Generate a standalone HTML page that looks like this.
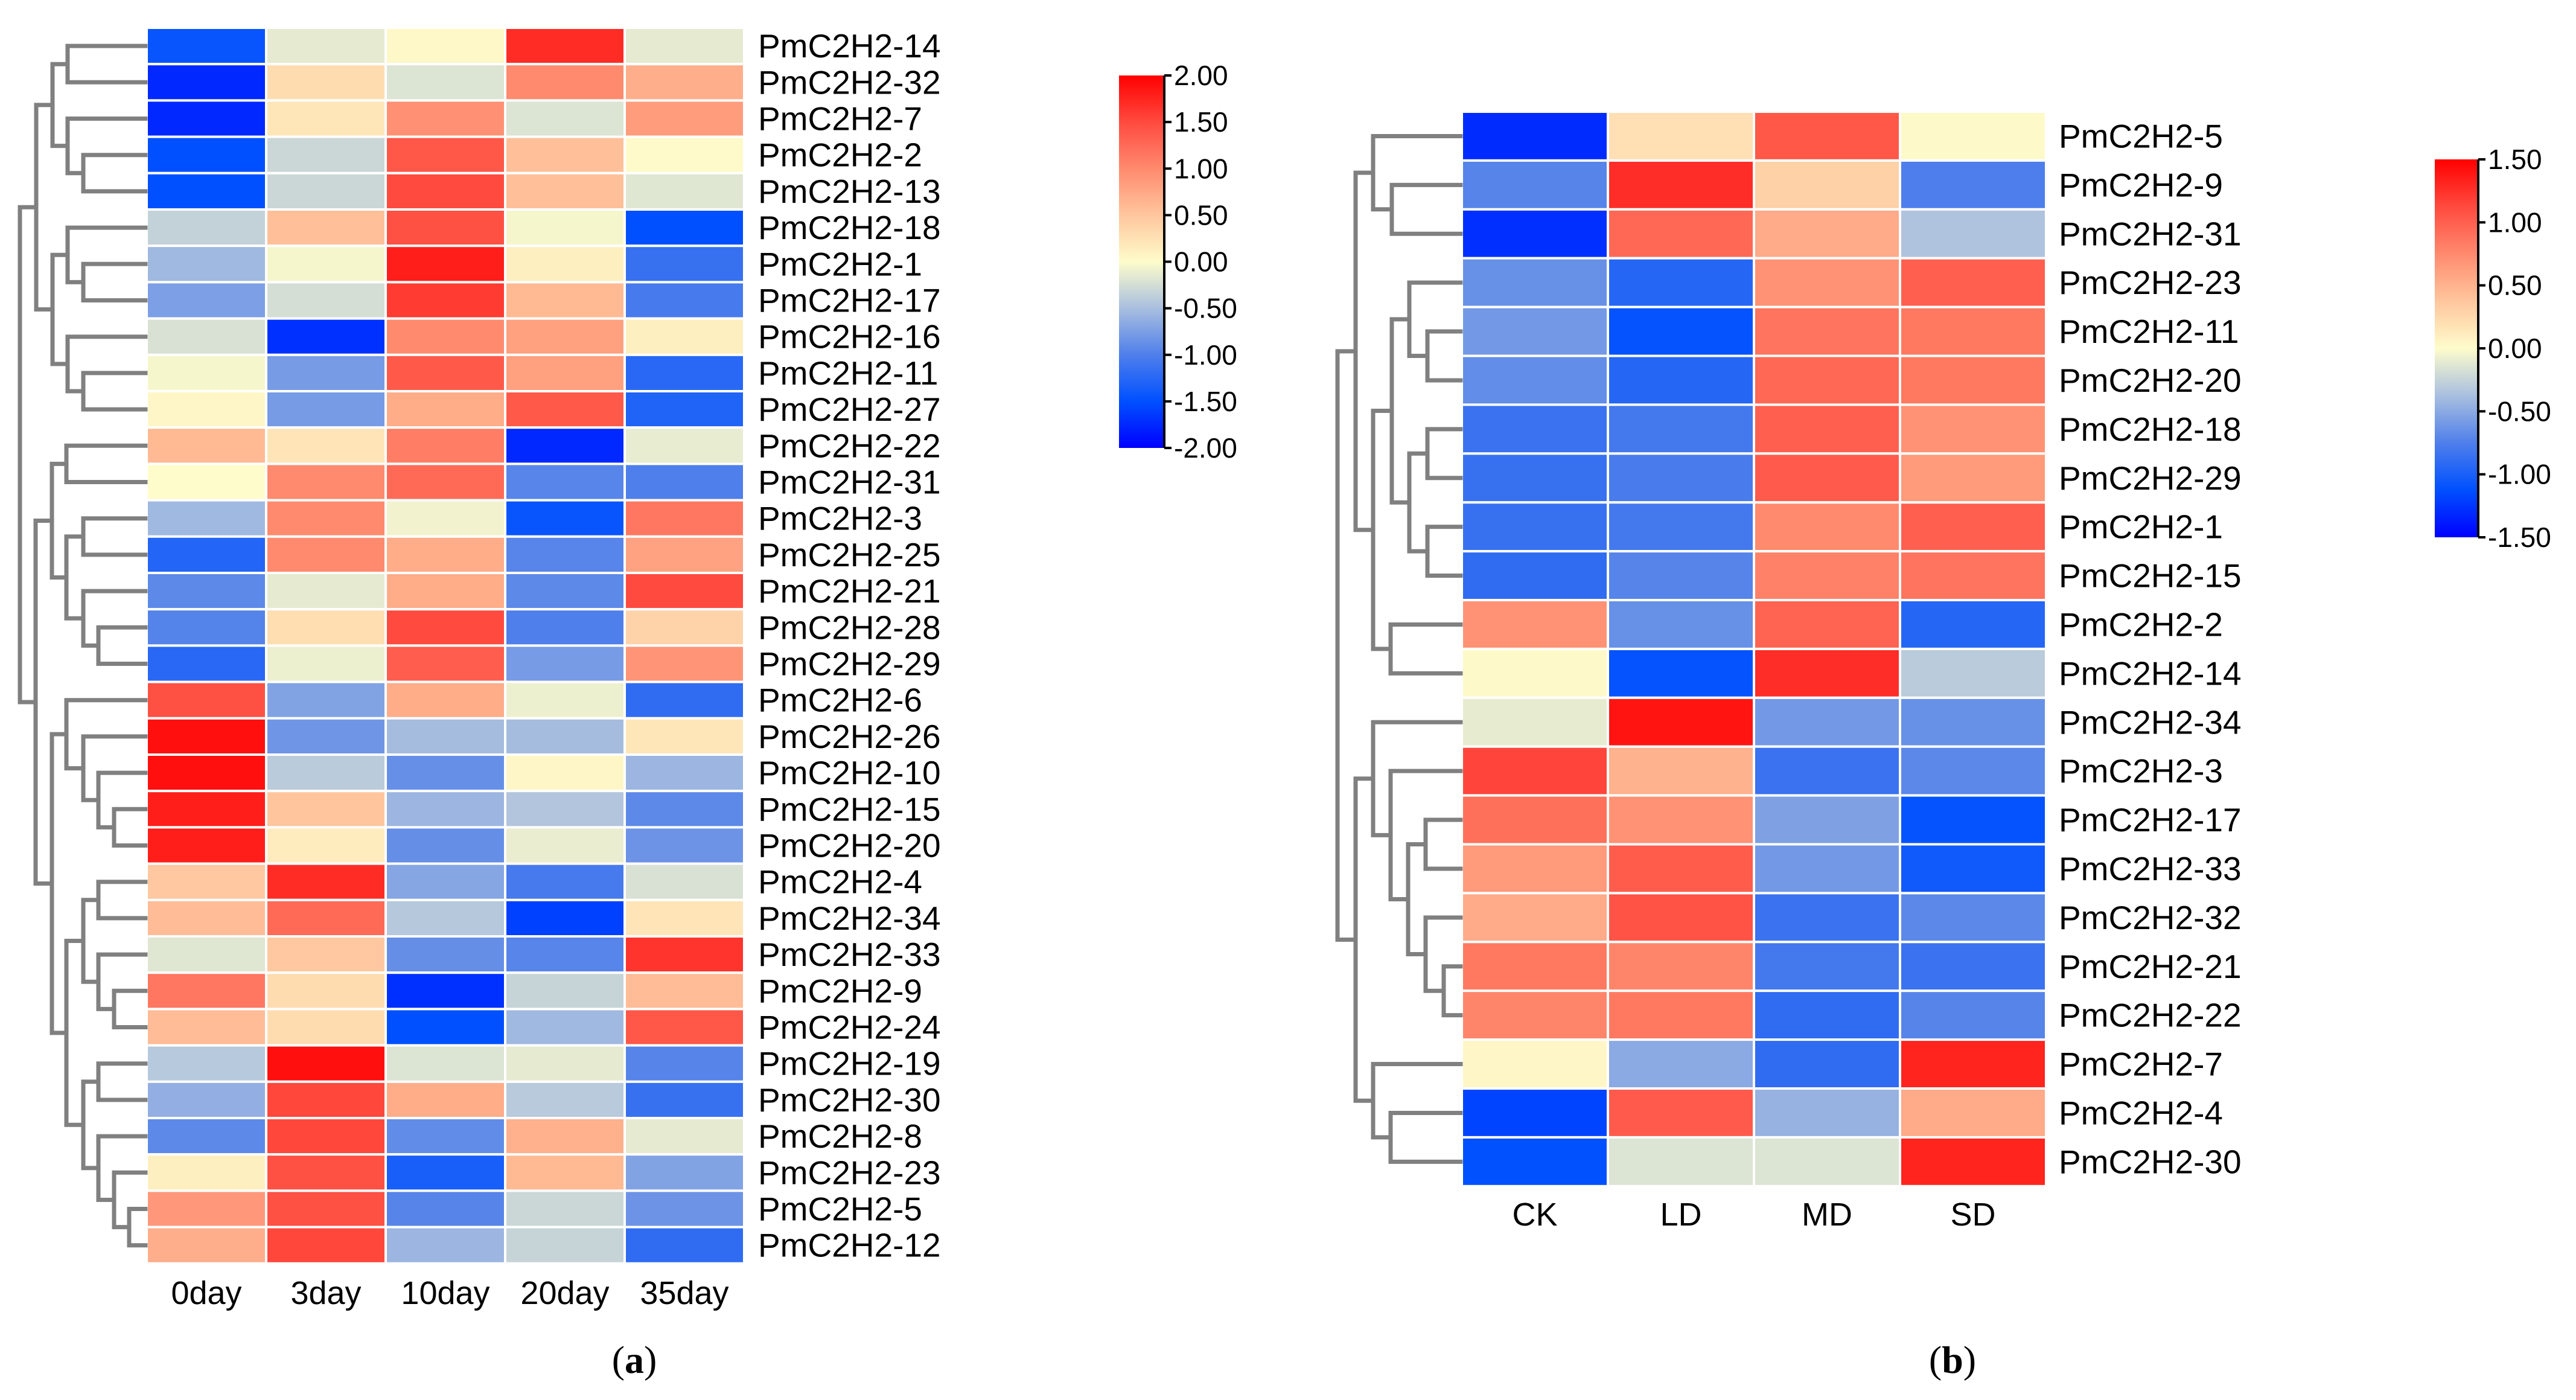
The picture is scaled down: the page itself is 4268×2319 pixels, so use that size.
<!DOCTYPE html>
<html><head><meta charset="utf-8"><title>PmC2H2 heatmaps</title>
<style>html,body{margin:0;padding:0;background:#fff}svg{display:block}</style></head>
<body>
<svg id="fig" xmlns="http://www.w3.org/2000/svg" width="4268" height="2319" viewBox="0 0 4268 2319" font-family="'Liberation Sans', Arial, sans-serif">
<defs>
<linearGradient id="cbgrad" x1="0" y1="1" x2="0" y2="0">
<stop offset="0" stop-color="#0000ff"/><stop offset="0.125" stop-color="#0050ff"/><stop offset="0.25" stop-color="#4f7fea"/><stop offset="0.375" stop-color="#a9bfdf"/><stop offset="0.5" stop-color="#fefccb"/><stop offset="0.625" stop-color="#ffc69e"/><stop offset="0.75" stop-color="#ff8a6e"/><stop offset="0.875" stop-color="#ff4a3f"/><stop offset="1" stop-color="#ff0000"/>
</linearGradient>
</defs>
<g id="panelA"></g>
<g id="panelB"></g>
<text x="1051" y="2252" font-family="'Liberation Serif', serif" font-size="64" text-anchor="middle" dominant-baseline="central">(<tspan font-weight="bold">a</tspan>)</text>
<text x="3235" y="2252" font-family="'Liberation Serif', serif" font-size="64" text-anchor="middle" dominant-baseline="central">(<tspan font-weight="bold">b</tspan>)</text>
</svg>
<script>
const colsA = ["0day","3day","10day","20day","35day"];
const genesA = ["PmC2H2-14","PmC2H2-32","PmC2H2-7","PmC2H2-2","PmC2H2-13","PmC2H2-18","PmC2H2-1","PmC2H2-17","PmC2H2-16","PmC2H2-11","PmC2H2-27","PmC2H2-22","PmC2H2-31","PmC2H2-3","PmC2H2-25","PmC2H2-21","PmC2H2-28","PmC2H2-29","PmC2H2-6","PmC2H2-26","PmC2H2-10","PmC2H2-15","PmC2H2-20","PmC2H2-4","PmC2H2-34","PmC2H2-33","PmC2H2-9","PmC2H2-24","PmC2H2-19","PmC2H2-30","PmC2H2-8","PmC2H2-23","PmC2H2-5","PmC2H2-12"];
const valuesA = [
[-1.45,-0.15,0.05,1.7,-0.15],[-1.75,0.3,-0.2,1.0,0.7],[-1.75,0.2,0.95,-0.2,0.85],[-1.5,-0.3,1.4,0.55,0.02],[-1.5,-0.3,1.5,0.55,-0.18],
[-0.35,0.55,1.45,-0.05,-1.5],[-0.55,-0.05,1.8,0.12,-1.15],[-0.75,-0.25,1.6,0.6,-1.05],[-0.22,-1.7,1.0,0.82,0.12],[-0.05,-0.78,1.38,0.82,-1.25],
[0.06,-0.78,0.72,1.38,-1.3],[0.6,0.22,1.1,-1.75,-0.13],[0.0,1.0,1.25,-0.95,-1.0],[-0.55,1.0,-0.07,-1.45,1.15],[-1.28,1.0,0.72,-0.95,0.8],
[-0.92,-0.15,0.72,-0.92,1.5],[-0.97,0.28,1.5,-1.0,0.38],[-1.24,-0.1,1.35,-0.78,0.92],[1.45,-0.72,0.72,-0.1,-1.2],[1.9,-0.82,-0.52,-0.52,0.2],
[1.9,-0.4,-0.87,0.06,-0.57],[1.8,0.5,-0.57,-0.45,-0.92],[1.8,0.15,-0.88,-0.12,-0.84],[0.48,1.7,-0.7,-1.05,-0.22],[0.58,1.25,-0.43,-1.6,0.22],
[-0.18,0.48,-0.88,-0.95,1.65],[1.15,0.3,-1.7,-0.33,0.58],[0.58,0.3,-1.5,-0.55,1.4],[-0.42,1.9,-0.2,-0.15,-0.96],[-0.63,1.52,0.72,-0.41,-1.15],
[-0.92,1.52,-0.9,0.68,-0.15],[0.12,1.45,-1.35,0.6,-0.72],[0.88,1.45,-0.96,-0.3,-0.84],[0.7,1.52,-0.57,-0.33,-1.2]];
const ticksA = ["2.00","1.50","1.00","0.50","0.00","-0.50","-1.00","-1.50","-2.00"];

const colsB = ["CK","LD","MD","SD"];
const genesB = ["PmC2H2-5","PmC2H2-9","PmC2H2-31","PmC2H2-23","PmC2H2-11","PmC2H2-20","PmC2H2-18","PmC2H2-29","PmC2H2-1","PmC2H2-15","PmC2H2-2","PmC2H2-14","PmC2H2-34","PmC2H2-3","PmC2H2-17","PmC2H2-33","PmC2H2-32","PmC2H2-21","PmC2H2-22","PmC2H2-7","PmC2H2-4","PmC2H2-30"];
const valuesB = [
[-1.3,0.2,1.05,0.02],[-0.72,1.27,0.3,-0.76],[-1.28,0.95,0.55,-0.35],[-0.65,-0.95,0.7,1.0],[-0.6,-1.1,0.88,0.85],
[-0.67,-0.95,0.95,0.85],[-0.85,-0.8,1.0,0.7],[-0.86,-0.78,1.03,0.65],[-0.86,-0.8,0.75,1.0],[-0.9,-0.72,0.8,0.88],
[0.7,-0.65,0.97,-0.95],[0.02,-1.1,1.27,-0.3],[-0.1,1.4,-0.6,-0.65],[1.15,0.5,-0.85,-0.7],[0.9,0.7,-0.55,-1.1],
[0.65,1.02,-0.6,-1.05],[0.55,1.07,-0.85,-0.7],[0.85,0.78,-0.8,-0.85],[0.78,0.85,-0.9,-0.72],[0.04,-0.5,-0.9,1.32],
[-1.18,1.03,-0.45,0.55],[-1.12,-0.15,-0.15,1.32]];
const ticksB = ["1.50","1.00","0.50","0.00","-0.50","-1.00","-1.50"];

const NS = "http://www.w3.org/2000/svg";
const stops = [[0,0,255],[0,80,255],[79,127,234],[169,191,223],[254,252,203],[255,198,158],[255,138,110],[255,74,63],[255,0,0]];
function cmap(v, lim){
  let t = (v + lim) / (2*lim); t = Math.max(0, Math.min(1, t));
  const p = t*8, i = Math.min(7, Math.floor(p)), f = p - i;
  const a = stops[i], b = stops[i+1];
  return "rgb(" + a.map((c,k)=>Math.round(c + (b[k]-c)*f)).join(",") + ")";
}
function mk(tag, attrs, parent){
  const e = document.createElementNS(NS, tag);
  for (const k in attrs) e.setAttribute(k, attrs[k]);
  parent.appendChild(e); return e;
}

function drawHeatmap(g, cfg){
  const {cols, genes, vals, lim, x0, y0, cw, rh, labelX, xLabY, tree, leafEnd, cb, ticks} = cfg;
  const cells = mk("g", {}, g);
  
  
  genes.forEach((gn, r) => {
    cols.forEach((c, ci) => {
      const rc = mk("rect", {x: x0 + ci*cw, y: y0 + r*rh, width: cw, height: rh, fill: cmap(vals[r][ci], lim), stroke: "#fff", "stroke-width": 4}, cells);
      
      
    });
    const t = mk("text", {x: labelX, y: y0 + (r+0.5)*rh, "font-size": 55, "dominant-baseline": "central"}, g);
    t.textContent = gn;
    
    
  });
  cols.forEach((c, ci) => {
    const t = mk("text", {x: x0 + (ci+0.5)*cw, y: xLabY, "font-size": 54, "text-anchor": "middle", "dominant-baseline": "central"}, g);
    t.textContent = c;
    
    
  });
  const dg = mk("g", {stroke: "#808080", "stroke-width": 7, fill: "none", "stroke-linecap": "square"}, g);
  
  
  function walk(n){
    if (typeof n === "number") return {x: leafEnd, y: y0 + (n+0.5)*rh};
    const x = n[0], a = walk(n[1]), b = walk(n[2]);
    mk("path", {d: `M${a.x},${a.y}H${x}V${b.y}H${b.x}`}, dg);
    return {x: x, y: (a.y + b.y)/2};
  }
  walk(tree);
  const cg = mk("g", {}, g);
  
  
  mk("rect", {x: cb.x, y: cb.y, width: cb.w, height: cb.h, fill: "url(#cbgrad)"}, cg);
  mk("line", {x1: cb.x + cb.w, y1: cb.y, x2: cb.x + cb.w, y2: cb.y + cb.h, stroke: "#000", "stroke-width": 4}, cg);
  ticks.forEach((tl, i) => {
    const v = parseFloat(tl);
    const y = cb.y + cb.h * (lim - v) / (2*lim);
    mk("line", {x1: cb.x + cb.w, y1: y, x2: cb.x + cb.w + 12, y2: y, stroke: "#000", "stroke-width": 4}, cg);
    const t = mk("text", {x: cb.x + cb.w + 16, y: y, "font-size": 46, "dominant-baseline": "central"}, cg);
    t.textContent = tl;
    
    
  });
}

const treeA = [33,
  [60, [87,[112,0,1],[112,2,[138,3,4]]], [87,[112,5,[138,6,7]],[112,8,[138,9,10]]]],
  [59, [86,[110,11,12],[110,[138,13,14],[138,15,[163,16,17]]]],
       [86, [110,18,[138,19,[163,20,[189,21,22]]]],
            [110,[138,[163,23,24],[163,25,[189,26,27]]],[138,[163,28,29],[163,30,[189,31,[214,32,33]]]]]]]];
const treeB = [2216,
  [2246, [2275,0,[2306,1,2]], [2275,[2306,[2335,3,[2365,4,5]],[2335,[2365,6,7],[2365,8,9]]],[2304,10,11]]],
  [2246, [2275,12,[2304,13,[2333,[2362,14,15],[2362,16,[2392,17,18]]]]], [2275,19,[2304,20,21]]]];

drawHeatmap(document.getElementById("panelA"), {
  cols: colsA, genes: genesA, vals: valuesA, lim: 2, x0: 243, y0: 46, cw: 198, rh: 60.2,
  labelX: 1256, xLabY: 2142, tree: treeA, leafEnd: 241,
  cb: {x: 1854, y: 125, w: 75, h: 617}, ticks: ticksA});
drawHeatmap(document.getElementById("panelB"), {
  cols: colsB, genes: genesB, vals: valuesB, lim: 1.5, x0: 2422, y0: 185, cw: 242, rh: 80.9,
  labelX: 3411, xLabY: 2012, tree: treeB, leafEnd: 2420,
  cb: {x: 4034, y: 264, w: 72, h: 626}, ticks: ticksB});
</script>
</body></html>
